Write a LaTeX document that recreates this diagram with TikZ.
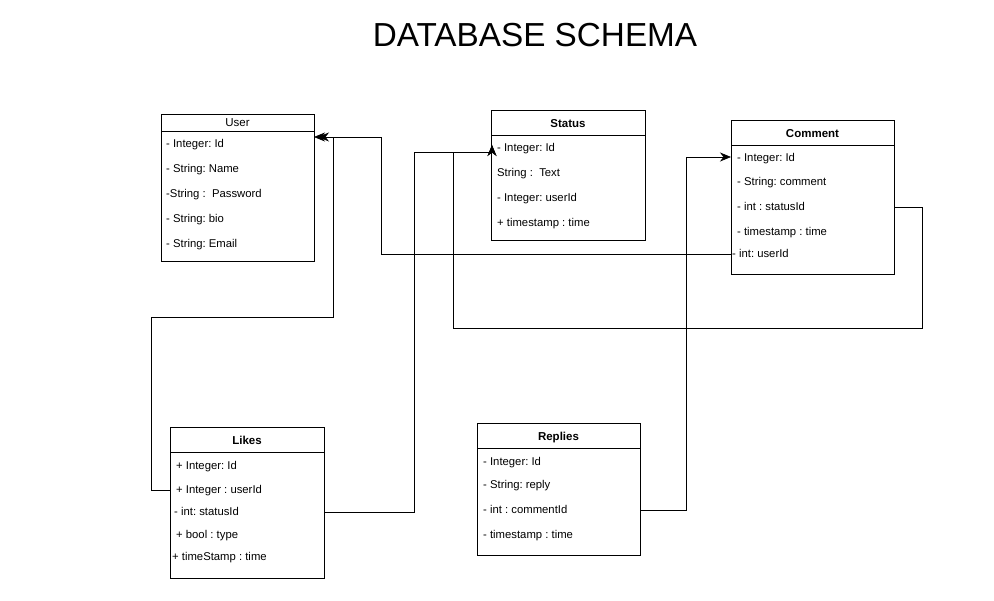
\documentclass[tikz,border=0pt]{standalone}
\usepackage{fontspec}
\setmainfont{Liberation Sans}
\usepackage{tikz}
\usetikzlibrary{arrows.meta}
\frenchspacing
\tikzset{
	classbox/.style = {draw, anchor=north west, inner sep=0pt, line width=0.8pt},
	classtitle/.style = {inner sep=0pt, text height=8pt, text depth=0pt, font=\bfseries\fontsize{11.5}{13}\selectfont},
	field/.style = {anchor=west, inner sep=0pt, text height=8pt, text depth=0pt, font=\fontsize{11.3}{13}\selectfont},
	link/.style = {line width=0.7pt, -{Stealth[length=11pt, width=9pt, inset=3.5pt]}}
}

\begin{document}
\begin{tikzpicture}[x=1pt, y=-1pt]
		\useasboundingbox (0,0) rectangle (994,601);
		\node[font=\fontsize{33.3}{36}\selectfont] (heading) at (535,35) {DATABASE SCHEMA};
		% user
		\node[classbox, minimum width=153pt, minimum height=147pt] (user) at (161,114) {};
		\draw[line width=0.8pt] (161,131) -- (314,131);
		\node[classtitle, font=\fontsize{11.5}{13}\selectfont] (usertitle) at (237.5,123) {User};
		\node[field] (uid) at (166,144) {- Integer: Id};
		\node[field] (uname) at (166,169) {- String: Name};
		\node[field] (upass) at (166,194) {-String :\ \ Password};
		\node[field] (ubio) at (166,219) {- String: bio};
		\node[field] (umail) at (166,244) {- String: Email};
		\coordinate (userin) at (314,137);
		% status
		\node[classbox, minimum width=154pt, minimum height=130pt] (status) at (491,110) {};
		\draw[line width=0.8pt] (491,135) -- (645,135);
		\node[classtitle] (statustitle) at (568,123.5) {Status};
		\node[field] (sid) at (497,148) {- Integer: Id};
		\node[field] (stext) at (497,173) {String :\ \ Text};
		\node[field] (suid) at (497,198) {- Integer: userId};
		\node[field] (stime) at (497,223) {+ timestamp : time};
		\coordinate (statin) at (492,145);
		% comment
		\node[classbox, minimum width=163pt, minimum height=154pt] (comment) at (731,120) {};
		\draw[line width=0.8pt] (731,145) -- (894,145);
		\node[classtitle] (commenttitle) at (812.5,134) {Comment};
		\node[field] (cid) at (737,158) {- Integer: Id};
		\node[field] (ctext) at (737,182) {- String: comment};
		\node[field] (csid) at (737,207) {- int : statusId};
		\node[field] (ctime) at (737,232) {- timestamp : time};
		\node[field] (cuid) at (732,254) {- int: userId};
		\coordinate (commin) at (731,157);
		% likes
		\node[classbox, minimum width=154pt, minimum height=151pt] (likes) at (170,427) {};
		\draw[line width=0.8pt] (170,452) -- (324,452);
		\node[classtitle] (likestitle) at (247,441) {Likes};
		\node[field] (lid) at (176,466) {+ Integer: Id};
		\node[field] (luid) at (176,490) {+ Integer : userId};
		\node[field] (lsid) at (174,512) {- int: statusId};
		\node[field] (ltype) at (176,535) {+ bool : type};
		\node[field] (ltime) at (172,557) {+ timeStamp : time};
		% replies
		\node[classbox, minimum width=163pt, minimum height=132pt] (replies) at (477,423) {};
		\draw[line width=0.8pt] (477,448) -- (640,448);
		\node[classtitle] (repliestitle) at (558.5,437) {Replies};
		\node[field] (rid) at (483,462) {- Integer: Id};
		\node[field] (rtext) at (483,485) {- String: reply};
		\node[field] (rcid) at (483,510) {- int : commentId};
		\node[field] (rtime) at (483,535) {- timestamp : time};
		% links
		\draw[link, shorten >=4pt] (comment.west |- cuid) -| (381,137) -- (userin);
		\draw[link] (likes.west |- luid) -| (151,317) -| (333,137) -- (userin);
		\draw[link] (likes.east |- lsid) -| (414,152) -| (statin);
		\draw[link] (comment.east |- csid) -| (922,328) -| (453,152) -| (statin);
		\draw[link] (replies.east |- rcid) -| (686,157) -- (commin);
	\end{tikzpicture}
\end{document}
